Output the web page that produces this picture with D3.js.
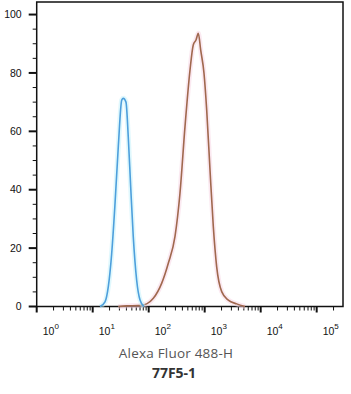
<!DOCTYPE html>
<html>
<head>
<meta charset="utf-8">
<script src="https://cdn.jsdelivr.net/npm/d3@7"></script>
<style>
  body { margin: 0; background: #fff; }
  svg { display: block; }
</style>
</head>
<body>
<div id="chart"></div>
<script>
// isotype control (blue) – fluorescence value, % of max
const isoX = [13.5, 16.6, 19, 21.8, 25, 28.7, 33, 35.2, 39.3, 43.2, 47.7, 53, 61, 70, 82];
const isoY = [0, 1.6, 6.8, 18, 35, 55, 70.7, 71.3, 70, 58, 41, 24, 9, 2.2, 0];

// 77F5-1 stained (brown)
const abX = [28.7, 40, 65, 92, 121, 171, 224, 295, 362, 445, 547, 625, 700, 769, 849, 972, 1086, 1245, 1426, 1637, 2013, 2637, 3724, 5248];
const abY = [0, 0.2, 0.3, 0.9, 2.8, 8, 14.8, 24, 38.8, 61.6, 81, 89.6, 91.3, 93.6, 87.8, 79.9, 67.3, 46.7, 27.3, 13.6, 5.1, 2.2, 0.9, 0];

const yTicks = [0, 20, 40, 60, 80, 100];
const decades = [0, 1, 2, 3, 4, 5];

const width = 351, height = 394;
const plotL = 36.7, plotR = 343, plotT = 2, plotB = 306.5;

const svg = d3.select("#chart").append("svg")
    .attr("width", width)
    .attr("height", height);

const x = d3.scaleLog().domain([1, Math.pow(10, 5.47)]).range([plotL, plotR]);
const y = d3.scaleLinear().domain([0, 104.3]).range([plotB, plotT]);

// frame
svg.append("rect")
    .attr("x", plotL).attr("y", plotT)
    .attr("width", plotR - plotL).attr("height", plotB - plotT)
    .style("fill", "none")
    .style("stroke", "#111")
    .style("stroke-width", "1.5px");

// y ticks: major every 20, minor every 5
let minorY = d3.range(0, 101, 5).filter(v => v % 20 !== 0);
svg.append("g").selectAll("line")
    .data(minorY)
    .enter().append("line")
    .attr("x1", plotL - 4).attr("x2", plotL)
    .attr("y1", d => y(d)).attr("y2", d => y(d))
    .style("stroke", "#111").style("stroke-width", "1px");

svg.append("g").selectAll("line")
    .data(yTicks)
    .enter().append("line")
    .attr("x1", plotL - 8).attr("x2", plotL)
    .attr("y1", d => y(d)).attr("y2", d => y(d))
    .style("stroke", "#111").style("stroke-width", "2px");

svg.append("g").selectAll("text")
    .data(yTicks)
    .enter().append("text")
    .attr("x", plotL - 15)
    .attr("y", d => y(d))
    .attr("dy", "0.35em")
    .text(d => d)
    .style("text-anchor", "end")
    .style("font-family", "Liberation Sans Narrow, Liberation Sans, Arial, sans-serif")
    .style("font-size", "10.5px")
    .style("fill", "#111");

// x ticks: decades plus 2..9 minors
let minorX = [];
decades.forEach(function(k) {
  for (let m = 2; m <= 9; m++) {
    let v = m * Math.pow(10, k);
    if (v < x.domain()[1]) minorX.push(v);
  }
});

svg.append("g").selectAll("line")
    .data(minorX)
    .enter().append("line")
    .attr("x1", d => x(d)).attr("x2", d => x(d))
    .attr("y1", plotB).attr("y2", plotB + 4)
    .style("stroke", "#111").style("stroke-width", "1px");

svg.append("g").selectAll("line")
    .data(decades)
    .enter().append("line")
    .attr("x1", d => x(Math.pow(10, d))).attr("x2", d => x(Math.pow(10, d)))
    .attr("y1", plotB).attr("y2", plotB + 6)
    .style("stroke", "#111").style("stroke-width", "2px");

let xl = svg.append("g").selectAll("text")
    .data(decades)
    .enter().append("text")
    .attr("x", d => x(Math.pow(10, d)) + 6)
    .attr("y", 335)
    .style("font-family", "Liberation Sans, Arial, sans-serif")
    .style("font-size", "10.5px")
    .style("fill", "#111");
xl.append("tspan").text("10");
xl.append("tspan").text(d => d)
    .attr("dy", "-6")
    .style("font-size", "8px");

// histograms
const line = d3.line()
    .x(d => x(d[0]))
    .y(d => y(d[1]))
    .curve(d3.curveMonotoneX);

const series = [
  {xs: abX, ys: abY, color: "#a0684e", halo: "#f8d3e3"},
  {xs: isoX, ys: isoY, color: "#4d9fdc", halo: "#c2f2fb"}
];

series.forEach(function(s) {
  let pts = s.xs.map((v, i) => [v, s.ys[i]]);
  svg.append("path")
      .attr("d", line(pts))
      .style("fill", "none")
      .style("stroke", s.halo)
      .style("stroke-opacity", 0.5)
      .style("stroke-width", "5px");
  svg.append("path")
      .attr("d", line(pts))
      .style("fill", "none")
      .style("stroke", s.color)
      .style("stroke-width", "1.6px");
});

// titles
svg.append("text")
    .attr("x", 176).attr("y", 358)
    .text("Alexa Fluor 488-H")
    .style("text-anchor", "middle")
    .style("font-family", "Open Sans, sans-serif")
    .style("font-size", "13.5px")
    .style("letter-spacing", "0.2px")
    .style("fill", "#555");

svg.append("text")
    .attr("x", 174).attr("y", 378)
    .text("77F5-1")
    .style("text-anchor", "middle")
    .style("font-family", "Open Sans, sans-serif")
    .style("font-weight", "bold")
    .style("font-size", "14px")
    .style("fill", "#333");
</script>
</body>
</html>
